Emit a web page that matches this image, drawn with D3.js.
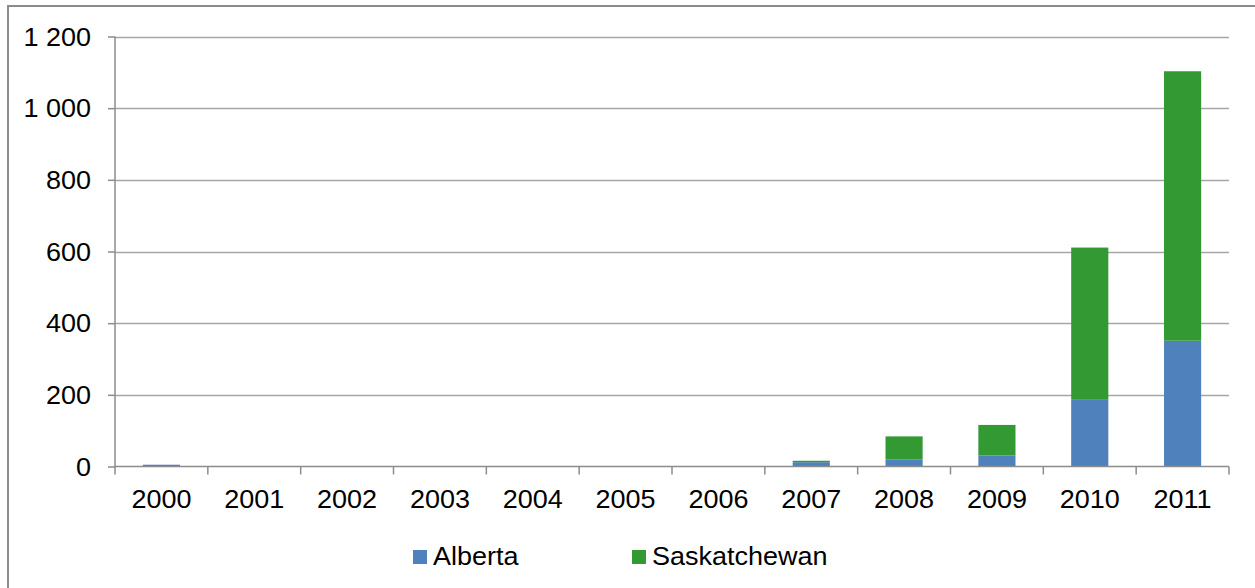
<!DOCTYPE html>
<html>
<head>
<meta charset="utf-8">
<script src="https://cdn.jsdelivr.net/npm/d3@7"></script>
<style>
  html, body { margin: 0; padding: 0; background: #ffffff; }
  svg { display: block; }
  text { font-family: "Liberation Sans", Arial, sans-serif; fill: #000; font-size: 25px; }
</style>
</head>
<body>
<svg id="chart" width="1255" height="588"></svg>
<script>
// Years shown along the category axis
const years = ["2000", "2001", "2002", "2003", "2004", "2005", "2006", "2007", "2008", "2009", "2010", "2011"];
// Stacked series values
const alberta      = [5, 0, 0, 0, 0, 0, 0, 12, 20, 31, 188, 351];
const saskatchewan = [0, 0, 0, 0, 0, 0, 0, 4, 64, 85, 423, 752];
const seriesNames  = ["Alberta", "Saskatchewan"];
const seriesColors = ["#4f81bd", "#339933"];
// Value axis ticks
const yTicks = [0, 200, 400, 600, 800, 1000, 1200];

const svg = d3.select("#chart");
const WIDEN = 1.08; // slightly wide lettering

// Places a label at (x, y) with the wide lettering applied around its anchor
function label(sel, x, y, anchor) {
  return sel.append("text")
    .attr("transform", `translate(${x},${y}) scale(${WIDEN},1)`)
    .attr("text-anchor", anchor);
}

// Outer frame
svg.append("rect")
  .attr("x", 8).attr("y", 6)
  .attr("width", 1260).attr("height", 600)
  .attr("fill", "none")
  .attr("stroke", "#8c8c8c")
  .attr("stroke-width", 2);

const plot = { left: 115, right: 1229, top: 36.5, bottom: 466.5 };

const x = d3.scaleBand()
  .domain(years)
  .range([plot.left, plot.right])
  .paddingInner(0.6)
  .paddingOuter(0.3);

const y = d3.scaleLinear()
  .domain([0, 1200])
  .range([plot.bottom, plot.top]);

const fmt = v => d3.format(",")(v).replace(/,/g, " ");

// Horizontal gridlines
svg.append("g")
  .selectAll("line")
  .data(yTicks.filter(d => d > 0))
  .join("line")
  .attr("x1", plot.left).attr("x2", plot.right)
  .attr("y1", d => Math.round(y(d)) + 0.5).attr("y2", d => Math.round(y(d)) + 0.5)
  .attr("stroke", "#a6a6a6")
  .attr("stroke-width", 1.5);

// Value axis: tick marks from the axis generator, labels placed alongside
const yAxis = svg.append("g")
  .attr("transform", `translate(${plot.left},0)`)
  .call(d3.axisLeft(y).tickValues(yTicks).tickSize(7).tickFormat(""));
yAxis.select(".domain").remove();
yAxis.selectAll(".tick line").attr("stroke", "#8c8c8c").attr("stroke-width", 1.5);
yAxis.append("line")
  .attr("x1", 0).attr("x2", 0)
  .attr("y1", plot.top).attr("y2", plot.bottom + 8)
  .attr("stroke", "#8c8c8c").attr("stroke-width", 1.5);
const yLabels = svg.append("g");
yTicks.forEach(t => {
  label(yLabels, 91, y(t) + 9, "end").text(fmt(t));
});

// Stacked bars
const table = years.map((yr, i) => ({ year: yr, Alberta: alberta[i], Saskatchewan: saskatchewan[i] }));
const stacked = d3.stack().keys(seriesNames)(table);

svg.append("g")
  .selectAll("g")
  .data(stacked)
  .join("g")
  .attr("fill", (d, i) => seriesColors[i])
  .selectAll("rect")
  .data(d => d.filter(s => s[1] - s[0] > 0))
  .join("rect")
  .attr("x", d => x(d.data.year))
  .attr("width", x.bandwidth())
  .attr("y", d => y(d[1]))
  .attr("height", d => y(d[0]) - y(d[1]));

// Category axis: baseline plus boundary ticks
const step = x.step();
const xAxis = svg.append("g");
xAxis.append("line")
  .attr("x1", plot.left).attr("x2", plot.right)
  .attr("y1", plot.bottom).attr("y2", plot.bottom)
  .attr("stroke", "#8c8c8c").attr("stroke-width", 1.5);
xAxis.selectAll("line.boundary")
  .data(d3.range(1, years.length + 1))
  .join("line")
  .attr("class", "boundary")
  .attr("x1", i => plot.left + i * step).attr("x2", i => plot.left + i * step)
  .attr("y1", plot.bottom).attr("y2", plot.bottom + 8)
  .attr("stroke", "#8c8c8c").attr("stroke-width", 1.5);
years.forEach(yr => {
  label(xAxis, x(yr) + x.bandwidth() / 2, 508, "middle").text(yr);
});

// Legend
const legendPos = [413, 632];
const legend = svg.append("g");
seriesNames.forEach((name, i) => {
  legend.append("rect")
    .attr("x", legendPos[i]).attr("y", 550)
    .attr("width", 14).attr("height", 14)
    .attr("fill", seriesColors[i]);
  label(legend, legendPos[i] + 20, 565, "start").text(name);
});
</script>
</body>
</html>
